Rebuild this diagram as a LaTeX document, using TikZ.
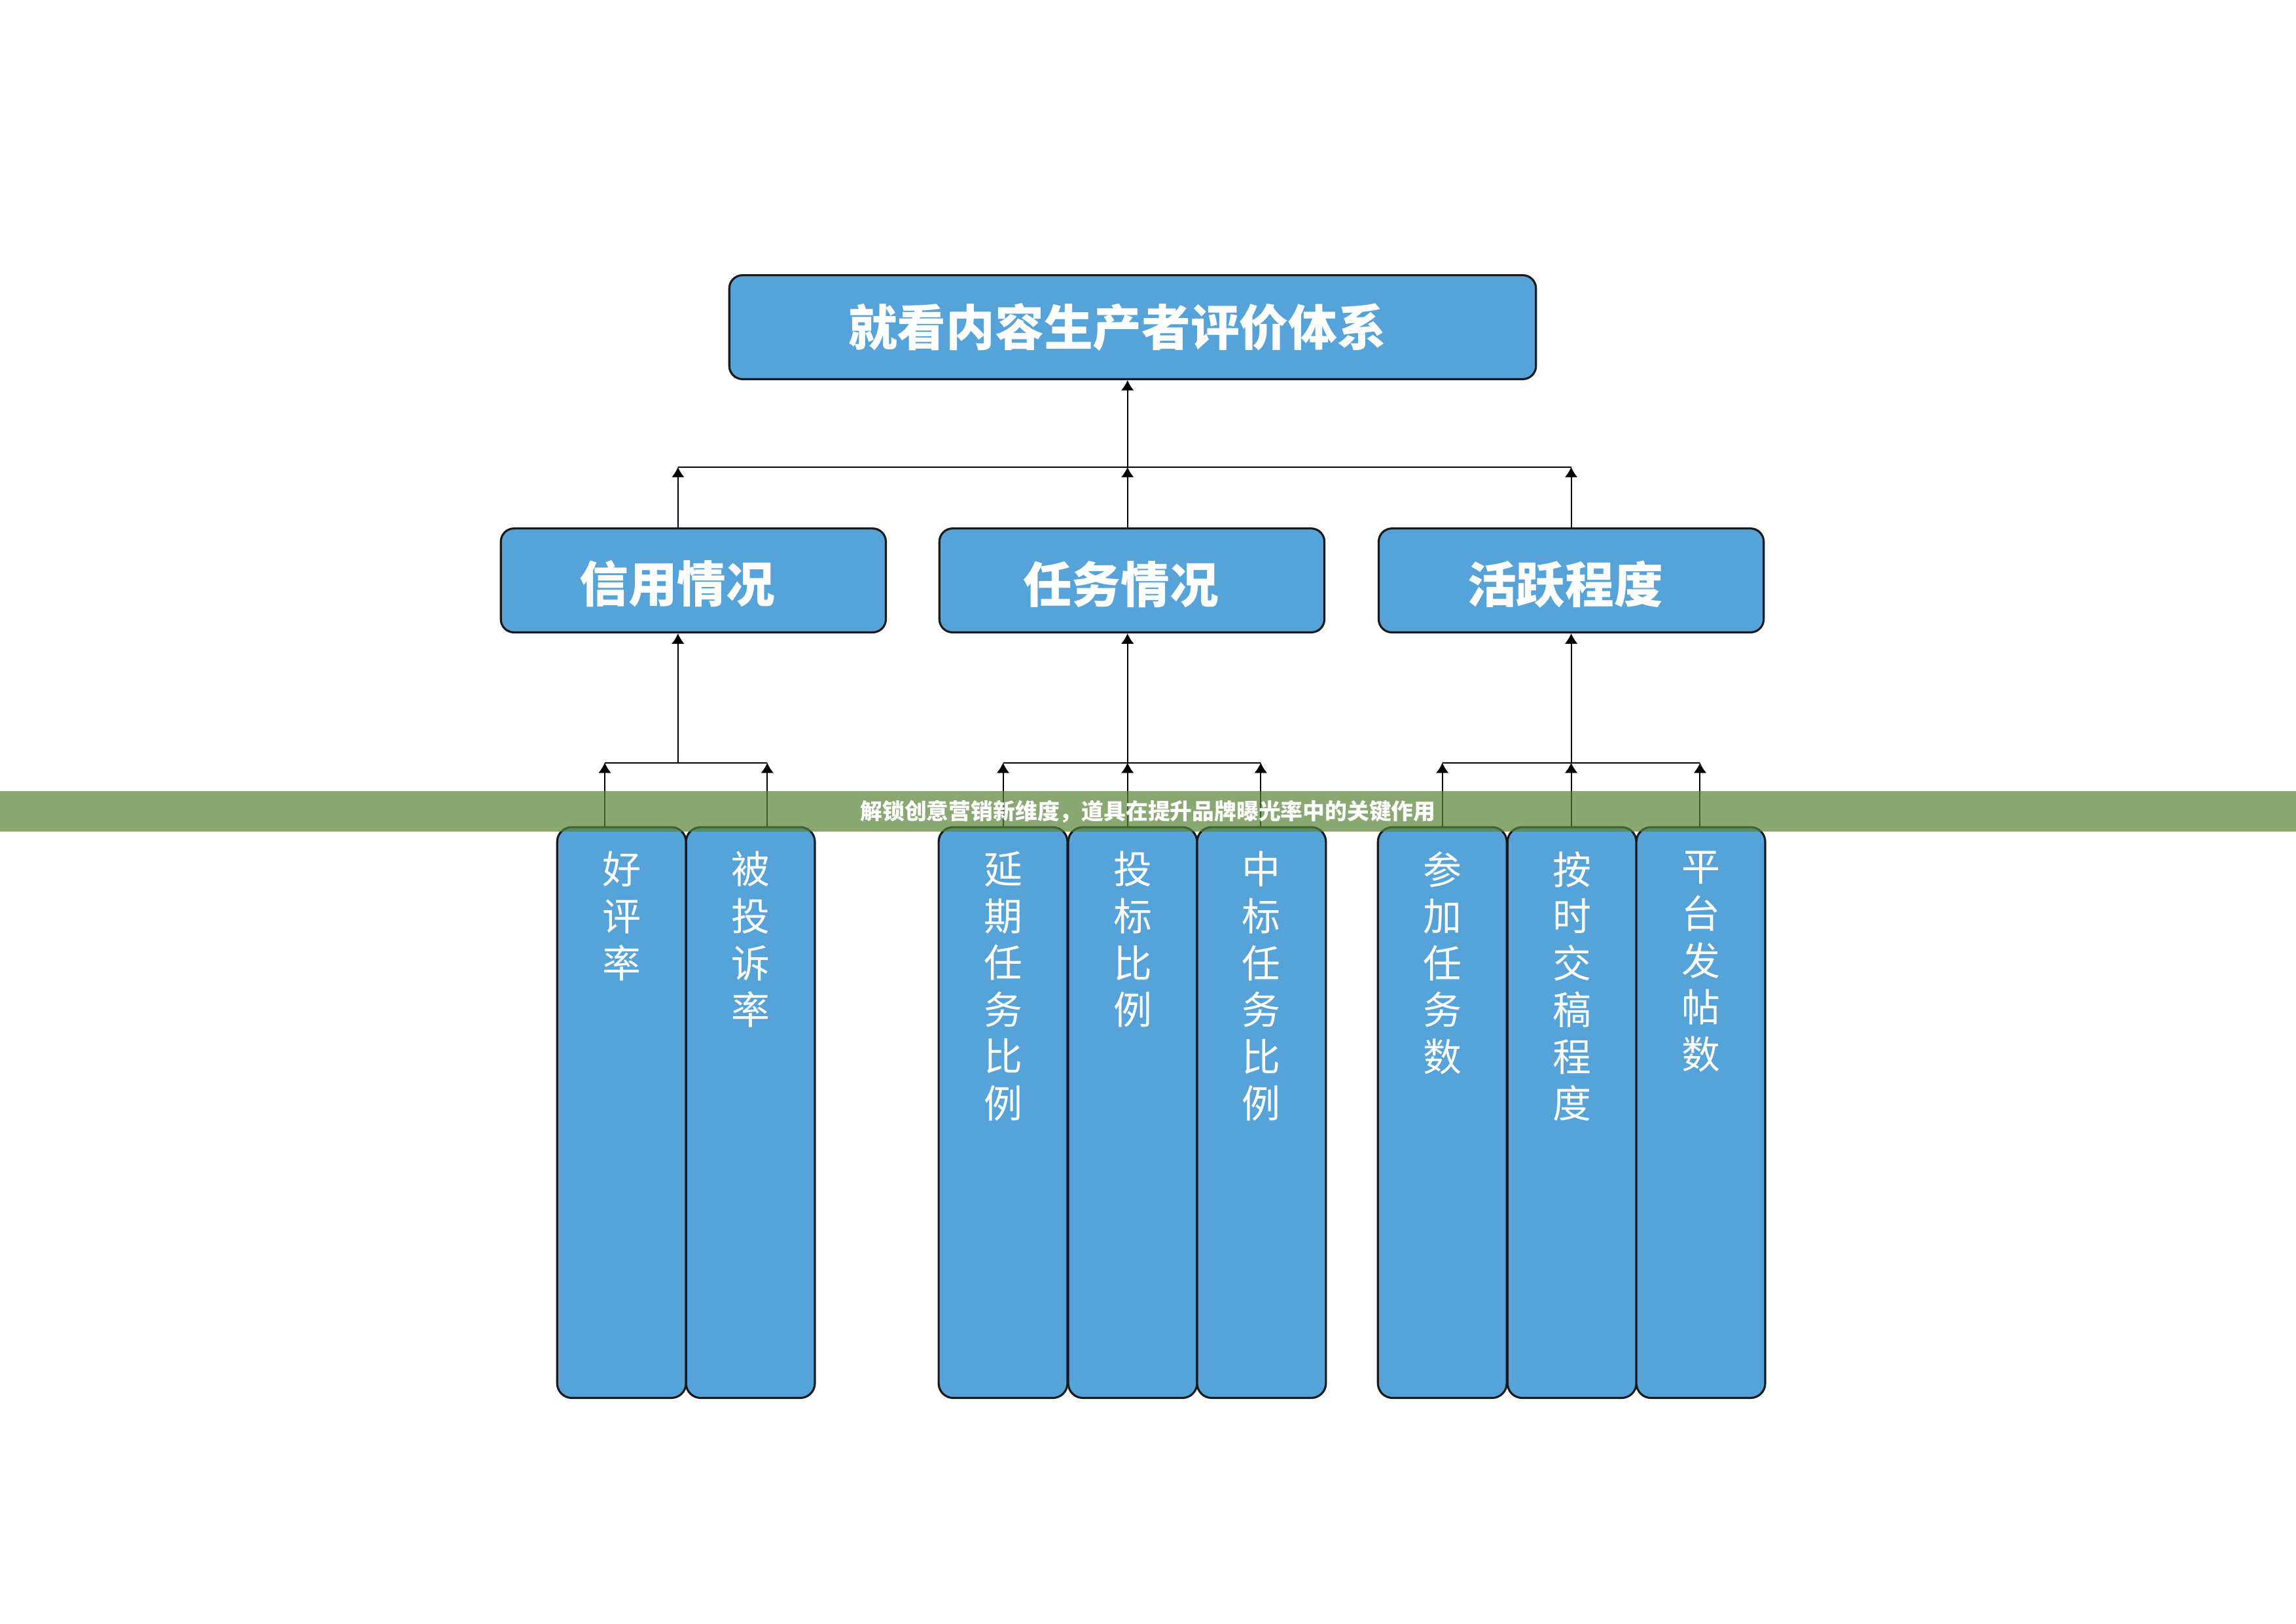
\documentclass[tikz,border=0pt]{standalone}
\usepackage{fontspec}
\setmainfont{Noto Sans CJK SC}
\usetikzlibrary{arrows.meta}
\definecolor{boxblue}{RGB}{86,163,217}
\definecolor{bandgreen}{RGB}{88,131,54}
\tikzset{
  bigbox/.style={draw=black!90,line width=0.8pt,fill=boxblue,rounded corners=0.18cm,minimum height=1.42cm},
  boxlbl/.style={text=white,inner sep=0pt,font=\bfseries\fontsize{19}{22}\selectfont},
  leafbox/.style={draw=black!90,line width=0.8pt,fill=boxblue,rounded corners=0.2cm,minimum width=1.76cm,minimum height=7.8cm,inner sep=0pt},
  leaflbl/.style={anchor=north,yshift=-0.34cm,align=center,text=white,font=\fontsize{15}{18.2}\selectfont,inner sep=0pt},
  arr/.style={-{Latex[length=4pt,width=5pt]},line width=0.5pt},
  band/.style={fill=bandgreen,fill opacity=0.7,text opacity=1,text=white,minimum width=31.36cm,minimum height=0.55cm,inner sep=0pt,font=\bfseries\fontsize{8.6}{10}\selectfont}
}
\begin{document}
\begin{tikzpicture}[x=0.02cm,y=0.02cm]
  \useasboundingbox (0,0) rectangle (1568,-1109);

  % top and middle level
  \node[bigbox,minimum width=11.02cm,label={[boxlbl,xshift=-0.21cm]center:就看内容生产者评价体系}] (sys) at (773.5,-223.5) {};
  \node[bigbox,minimum width=5.26cm,label={[boxlbl,xshift=-0.22cm,yshift=-0.05cm]center:信用情况}] (credit) at (473.5,-396.5) {};
  \node[bigbox,minimum width=5.26cm,label={[boxlbl,xshift=-0.15cm,yshift=-0.05cm]center:任务情况}] (task) at (773,-396.5) {};
  \node[bigbox,minimum width=5.26cm,label={[boxlbl,xshift=-0.08cm,yshift=-0.05cm]center:活跃程度}] (active) at (1073,-396.5) {};

  % leaves
  \node[leafbox,label={[leaflbl]north:好\\评\\率}] (good) at (424.5,-760) {};
  \node[leafbox,label={[leaflbl]north:被\\投\\诉\\率}] (complain) at (512.5,-760) {};
  \node[leafbox,label={[leaflbl]north:延\\期\\任\\务\\比\\例}] (delay) at (685,-760) {};
  \node[leafbox,label={[leaflbl]north:投\\标\\比\\例}] (bid) at (773.5,-760) {};
  \node[leafbox,label={[leaflbl]north:中\\标\\任\\务\\比\\例}] (win) at (861.5,-760) {};
  \node[leafbox,label={[leaflbl]north:参\\加\\任\\务\\数}] (join) at (985,-760) {};
  \node[leafbox,label={[leaflbl]north:按\\时\\交\\稿\\程\\度}] (ontime) at (1073.5,-760) {};
  \node[leafbox,label={[leaflbl]north:平\\台\\发\\帖\\数}] (posts) at (1161.5,-760) {};

  % upper bar
  \coordinate (t1) at (463,-319);
  \coordinate (t2) at (770,-319);
  \coordinate (t3) at (1073,-319);
  \draw[line width=0.5pt] (t1) -- (t3);
  \draw[arr] (credit.north -| t1) -- (t1);
  \draw[arr] (task.north -| t2) -- (t2);
  \draw[arr] (active.north -| t3) -- (t3);
  \draw[arr] (t2) -- (sys.south -| t2);

  % lower bars
  \coordinate (a1) at (413,-521);
  \coordinate (a2) at (463,-521);
  \coordinate (a3) at (524,-521);
  \draw[line width=0.5pt] (a1) -- (a3);
  \draw[arr] (good.north -| a1) -- (a1);
  \draw[arr] (complain.north -| a3) -- (a3);
  \draw[arr] (a2) -- (credit.south -| a2);

  \coordinate (b1) at (685,-521);
  \coordinate (b2) at (770,-521);
  \coordinate (b3) at (861,-521);
  \draw[line width=0.5pt] (b1) -- (b3);
  \draw[arr] (delay.north -| b1) -- (b1);
  \draw[arr] (bid.north -| b2) -- (b2);
  \draw[arr] (win.north -| b3) -- (b3);
  \draw[arr] (b2) -- (task.south -| b2);

  \coordinate (c1) at (985,-521);
  \coordinate (c2) at (1073,-521);
  \coordinate (c3) at (1161,-521);
  \draw[line width=0.5pt] (c1) -- (c3);
  \draw[arr] (join.north -| c1) -- (c1);
  \draw[arr] (ontime.north -| c2) -- (c2);
  \draw[arr] (posts.north -| c3) -- (c3);
  \draw[arr] (c2) -- (active.south -| c2);

  % banner
  \node[band] (banner) at (784,-554.3) {解锁创意营销新维度，道具在提升品牌曝光率中的关键作用};
\end{tikzpicture}
\end{document}
